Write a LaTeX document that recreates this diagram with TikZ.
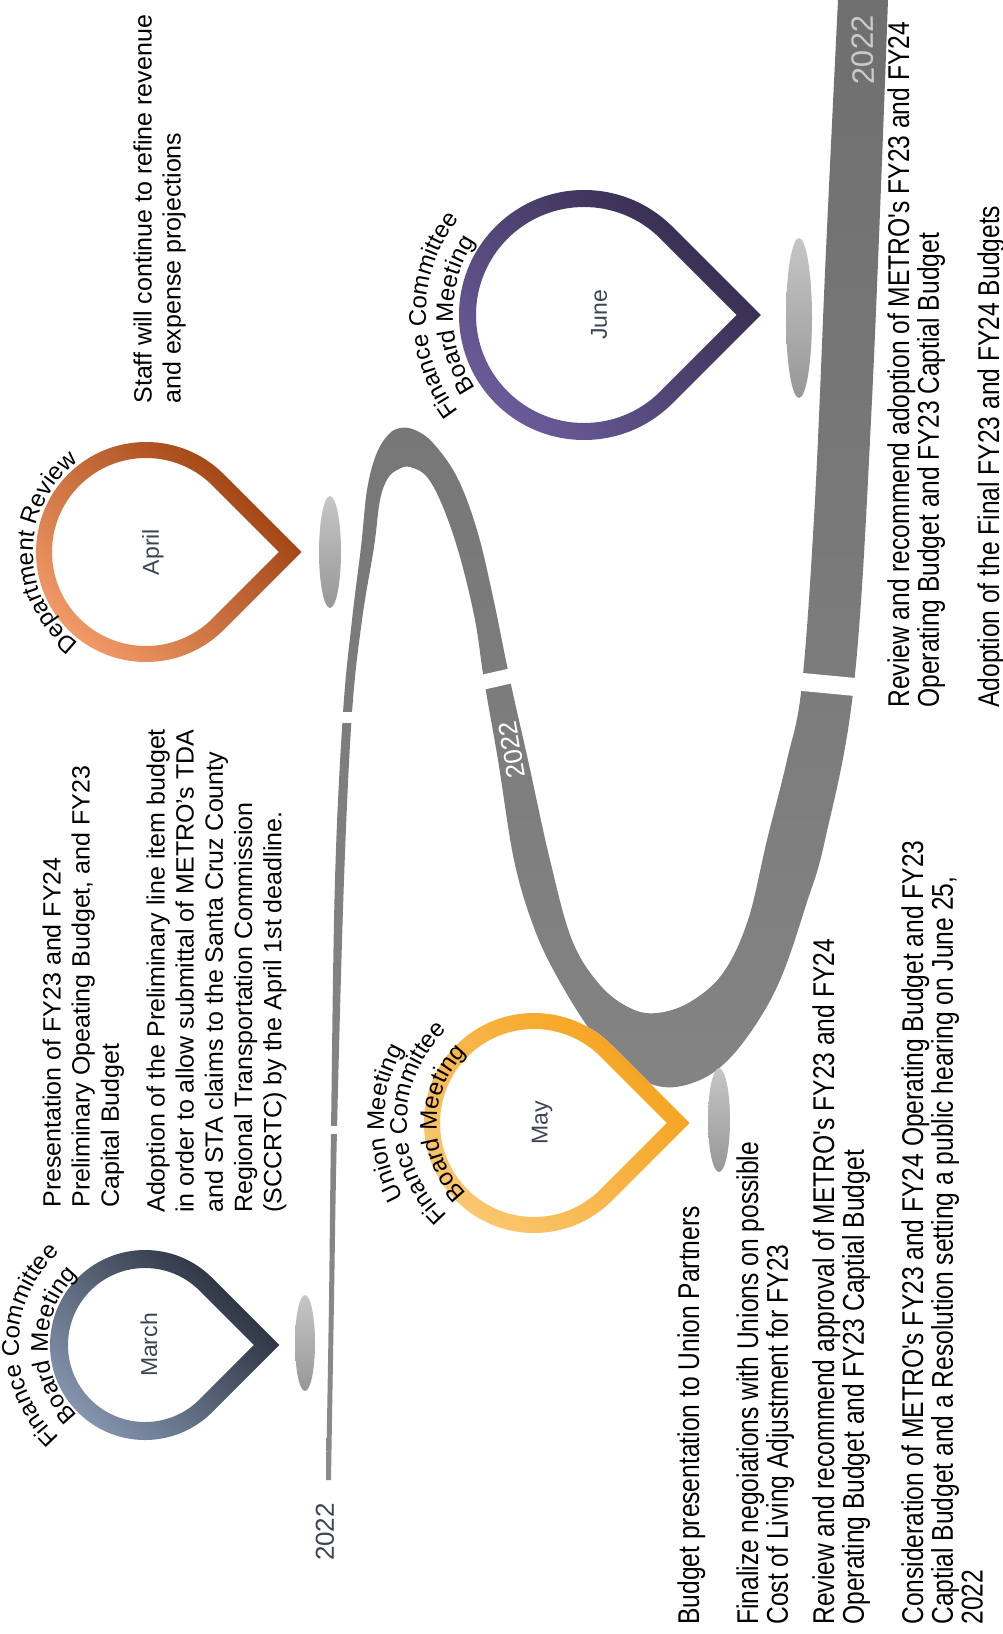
\documentclass[tikz,border=0pt]{standalone}
\usepackage{fontspec}
\setmainfont{Liberation Sans}
\setsansfont{Liberation Sans}
\newfontfamily\narrowfont[FakeStretch=0.82]{Liberation Sans}
\usetikzlibrary{decorations.text}
\definecolor{marchdark}{HTML}{252A36}
\definecolor{marchlight}{HTML}{8697B1}
\definecolor{aprildark}{HTML}{9A3D0C}
\definecolor{aprillight}{HTML}{F39C6A}
\definecolor{maydark}{HTML}{F5A11A}
\definecolor{maylight}{HTML}{FAC872}
\definecolor{junedark}{HTML}{33294A}
\definecolor{junelight}{HTML}{6C5D9B}
\definecolor{ribtop}{HTML}{6F6F6F}
\definecolor{ribbot}{HTML}{8B8B8B}
\definecolor{shadetop}{HTML}{C6C6C6}
\definecolor{shadebot}{HTML}{979797}
\definecolor{monthcol}{HTML}{3E4453}
\definecolor{yrlight}{HTML}{CACACA}
\newcommand\arcfont{\fontsize{12}{14}\selectfont}

\begin{document}
\begin{tikzpicture}[x=0.5pt, y=-0.5pt,
    txt/.style={font=\fontsize{12.5}{14.6}\selectfont, align=left, inner sep=0pt,
                anchor=north west, rotate=90},
    nar/.style={font=\narrowfont\fontsize{15}{14.85}\selectfont, align=left,
                inner sep=0pt, anchor=north west, rotate=90},
    month/.style={font=\fontsize{11.5}{13}\selectfont, text=monthcol, rotate=90, inner sep=0pt},
    yr/.style={font=\fontsize{13}{15}\selectfont, inner sep=0pt},
    cut/.style={draw=white, line width=#1},
    arctext/.style={decorate, decoration={text along path, text align=center,
                    text={|\arcfont|#1}}},
]
\useasboundingbox (0,0) rectangle (1002,1634);

% ================================================== the ribbon
\shade[top color=ribtop, bottom color=ribbot]
  plot[smooth, tension=0.6] coordinates {(326,1480) (329,1300) (331,1130) (335,880)
    (343,713) (352,620) (361,547) (367,490) (376,455) (388,435) (400,428) (415,430)
    (433,443) (457,477) (477,530) (493,597) (510,680) (528,760) (550,860) (572,940)
    (600,985) (630,1008) (657,1013) (690,1002) (723,973) (748,920) (767,840)
    (787,760) (802,684) (815,500) (826,250) (838,0)}
  -- plot[smooth, tension=0.6] coordinates {(888,0) (872,400) (854,684) (825,840)
    (806,905) (783,973) (760,1018) (730,1058) (700,1080) (663,1087) (625,1070)
    (590,1030) (555,973) (533,925) (514,860) (498,760) (484,680) (475,620)
    (460,557) (443,507) (427,477) (410,467) (399,469) (388,478) (380,500)
    (374,547) (362,620) (352,713) (344,880) (337,1130) (334,1300) (331,1480)} -- cycle;

% the white cuts
\draw[cut=5.5pt] (326,717) -- (364,717);
\draw[cut=4pt] (324,1130) -- (346,1130);
\draw[cut=7.5pt] (466,686) -- (528,672);
\draw[cut=9pt] (792,681) -- (866,688);

% ================================================== shadows under the tips
\foreach \sx/\sy/\sa/\sb in {305/1343/10/48, 330/552/11/56, 719/1120/11/52, 799/318/13/80}{
  \shade[top color=shadetop, bottom color=shadebot] (\sx,\sy) ellipse[x radius=\sa, y radius=\sb];}

% ================================================== the pins
\foreach \cx/\cy/\r/\t/\dk/\lt/\lx/\mon in {145/1345/95/18/marchdark/marchlight/149/March,
    146/552/110/16/aprildark/aprillight/153/April,
    534/1123/110/16/maydark/maylight/542/May,
    584/315/125/17/junedark/junelight/599/June}{
  \pgfmathsetmacro\ri{\r-\t}
  \fill[white] (\cx,\cy) ++(45:\r) arc[start angle=45, end angle=315, radius=\r]
    -- (\cx+1.4142*\r,\cy) -- cycle;
  \shade[even odd rule, top color=\dk, bottom color=\lt, shading angle=-45]
    (\cx,\cy) ++(45:\r) arc[start angle=45, end angle=315, radius=\r]
    -- (\cx+1.4142*\r,\cy) -- cycle
    (\cx,\cy) ++(45:\ri) arc[start angle=45, end angle=315, radius=\ri]
    -- (\cx+1.4142*\ri,\cy) -- cycle;
  \node[month] (m\mon) at (\lx,\cy) {\mon};
}

% the curved captions
\path[arctext={Finance Committee}] (145,1345) ++(110:126) arc[start angle=110, end angle=250, radius=126];
\path[arctext={Board Meeting}] (145,1345) ++(110:97) arc[start angle=110, end angle=250, radius=97];
\path[arctext={Department Review}] (146,552) ++(110:113) arc[start angle=110, end angle=250, radius=113];
\path[arctext={Union Meeting}] (534,1123) ++(110:150) arc[start angle=110, end angle=250, radius=150];
\path[arctext={Finance Committee}] (534,1123) ++(110:127) arc[start angle=110, end angle=250, radius=127];
\path[arctext={Board Meeting}] (534,1123) ++(110:97) arc[start angle=110, end angle=250, radius=97];
\path[arctext={Finance Committee}] (584,315) ++(110:158) arc[start angle=110, end angle=250, radius=158];
\path[arctext={Board Meeting}] (584,315) ++(110:131) arc[start angle=110, end angle=250, radius=131];

% ================================================== years on the ribbon
\node[yr, text=monthcol, rotate=90] (yrstart) at (325,1532) {2022};
\node[yr, text=white, rotate=100] (yrmid) at (512,750) {2022};
\node[yr, text=yrlight, rotate=91, font=\fontsize{15.5}{17}\selectfont] (yrend) at (863,50) {2022};

% ================================================== the notes
\node[txt] (presentation) at (42,1208)
  {Presentation of FY23 and FY24\\Preliminary Opeating Budget, and FY23\\Capital Budget};
\node[txt] (tdaclaims) at (146,1213)
  {Adoption of the Preliminary line item budget\\in order to allow submittal of METRO's TDA\\and STA claims to the Santa Cruz County\\Regional Transportation Commission\\(SCCRTC) by the April 1st deadline.};
\node[txt] (staff) at (133,404)
  {Staff will continue to refine revenue\\and expense projections};

\node[nar] (unionpres) at (677,1625) {Budget presentation to Union Partners};
\node[nar] (negotiate) at (736,1625)
  {Finalize negoiations with Unions on possible\\Cost of Living Adjustment for FY23};
\node[nar] (approval) at (812,1625)
  {Review and recommend approval of METRO's FY23 and FY24\\Operating Budget and FY23 Captial Budget};
\node[nar] (hearing) at (901,1625)
  {Consideration of METRO's FY23 and FY24 Operating Budget and FY23\\Captial Budget and a Resolution setting a public hearing on June 25,\\2022};
\node[nar] (recommend) at (887,708)
  {Review and recommend adoption of METRO's FY23 and FY24\\Operating Budget and FY23 Captial Budget};
\node[nar] (finaladopt) at (977,708) {Adoption of the Final FY23 and FY24 Budgets};

\end{tikzpicture}
\end{document}
